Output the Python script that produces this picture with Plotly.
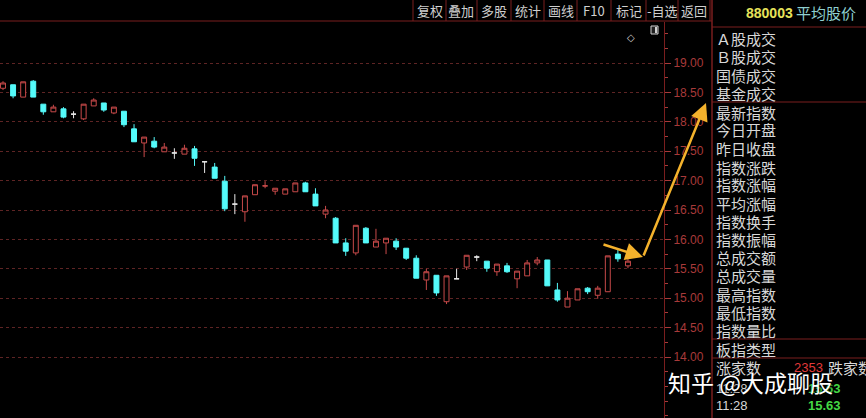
import plotly.graph_objects as go

W, H = 866, 418

# ---------------- data ----------------
opens = [18.57, 18.63, 18.42, 18.69, 18.30, 18.17, 18.22, 18.13, 18.05, 18.27,
         18.32, 18.15, 18.18, 17.88, 17.64, 17.67, 17.49, 17.47, 17.45, 17.54,
         17.32, 17.23, 16.99, 16.60, 16.47, 16.76, 16.91, 16.82, 16.77, 16.81,
         16.96, 16.77, 16.43, 16.36, 15.94, 15.77, 16.19, 15.87, 15.94, 15.97,
         15.85, 15.68, 15.31, 15.39, 14.94, 15.33, 15.53, 15.70, 15.63, 15.45,
         15.55, 15.33, 15.38, 15.60, 15.65, 15.14, 14.85, 14.97, 15.17, 15.05,
         15.11, 15.75, 15.55]
highs = [18.69, 18.63, 18.68, 18.71, 18.30, 18.29, 18.25, 18.18, 18.30, 18.40,
         18.32, 18.25, 18.18, 17.96, 17.74, 17.74, 17.64, 17.55, 17.61, 17.59,
         17.32, 17.30, 17.08, 16.77, 16.74, 16.93, 16.99, 16.87, 16.86, 16.96,
         16.98, 16.87, 16.57, 16.38, 16.02, 16.24, 16.21, 16.18, 16.02, 16.02,
         15.85, 15.73, 15.50, 15.39, 15.38, 15.50, 15.73, 15.73, 15.63, 15.58,
         15.60, 15.46, 15.65, 15.70, 15.65, 15.26, 15.12, 15.16, 15.19, 15.21,
         15.72, 15.82, 15.70]
lows = [18.54, 18.40, 18.42, 18.42, 18.12, 18.17, 18.06, 18.06, 18.03, 18.27,
        18.17, 18.13, 17.91, 17.66, 17.40, 17.55, 17.49, 17.37, 17.45, 17.25,
        17.13, 17.04, 16.48, 16.43, 16.30, 16.76, 16.87, 16.76, 16.77, 16.81,
        16.81, 16.57, 16.36, 15.94, 15.72, 15.73, 15.94, 15.87, 15.75, 15.82,
        15.65, 15.34, 15.14, 15.04, 14.90, 15.33, 15.48, 15.63, 15.45, 15.38,
        15.43, 15.17, 15.38, 15.56, 15.21, 14.94, 14.85, 14.97, 15.07, 14.99,
        15.11, 15.62, 15.51]
closes = [18.66, 18.44, 18.68, 18.42, 18.17, 18.25, 18.08, 18.13, 18.30, 18.37,
          18.20, 18.25, 17.95, 17.66, 17.74, 17.57, 17.57, 17.47, 17.55, 17.38,
          17.32, 17.04, 16.52, 16.60, 16.74, 16.93, 16.91, 16.87, 16.86, 16.96,
          16.81, 16.57, 16.50, 15.94, 15.80, 16.24, 15.94, 15.97, 16.02, 15.87,
          15.68, 15.34, 15.45, 15.09, 15.38, 15.33, 15.73, 15.70, 15.51, 15.58,
          15.45, 15.46, 15.60, 15.65, 15.21, 14.97, 15.00, 15.16, 15.11, 15.17,
          15.72, 15.67, 15.63]
doji_white = [7, 17, 20, 23, 45, 47]
doji_red = [26]

y_ticks = [14.0, 14.5, 15.0, 15.5, 16.0, 16.5, 17.0, 17.5, 18.0, 18.5, 19.0]

toolbar_labels = ["复权", "叠加", "多股", "统计", "画线", "F10", "标记", "-自选", "返回"]
panel_items = ["Ａ股成交", "Ｂ股成交", "国债成交", "基金成交",
               "最新指数", "今日开盘", "昨日收盘", "指数涨跌", "指数涨幅", "平均涨幅",
               "指数换手", "指数振幅", "总成交额", "总成交量", "最高指数", "最低指数",
               "指数量比", "板指类型", "涨家数"]
code_text = "880003"
name_text = "平均股价"
up_count = "2353"
down_label = "跌家数"
time_text = "11:28"
last_price = "15.63"
watermark = "知乎 @大成聊股"

# ---------------- styles ----------------
RED = "#c84a4a"
CYAN = "#54fafa"
AXRED = "#a83a3a"
LINERED = "#7a1e1e"
GRID = "#5e2424"
CJK = "Noto Sans CJK SC"


def px(x):
    return x / W


def py(y):
    return 1 - y / H


n = len(opens)
xs = list(range(n))
up = [i for i in xs if closes[i] > opens[i] and i not in doji_white + doji_red]
down = [i for i in xs if closes[i] < opens[i] and i not in doji_white + doji_red]

fig = go.Figure()


def add_candles(idx, inc_line, inc_fill, dec_line, dec_fill):
    fig.add_trace(go.Candlestick(
        x=[xs[i] for i in idx],
        open=[opens[i] for i in idx],
        high=[highs[i] for i in idx],
        low=[lows[i] for i in idx],
        close=[closes[i] for i in idx],
        increasing=dict(line=dict(color=inc_line, width=1), fillcolor=inc_fill),
        decreasing=dict(line=dict(color=dec_line, width=1), fillcolor=dec_fill),
        whiskerwidth=0, hoverinfo="skip", showlegend=False,
    ))


add_candles(up, RED, "#000000", RED, "#000000")
add_candles(down, CYAN, CYAN, CYAN, CYAN)
add_candles(doji_white, "#e8e8e8", "#e8e8e8", "#e8e8e8", "#e8e8e8")
add_candles(doji_red, RED, RED, RED, RED)

# pixel mapping of the price axis: 19.00 at y=63, 58.8 px per 1.0
top_px, bot_px = 22, 418
y_top = 19 + (63 - top_px) / 58.8
y_bot = 19 - (bot_px - 63) / 58.8
x_left = (0 - 3) / 10.08
x_right = (664 - 3) / 10.08

fig.update_layout(
    width=W, height=H,
    margin=dict(l=0, r=0, t=0, b=0),
    paper_bgcolor="#000000", plot_bgcolor="#000000",
    boxgap=0.3,
    xaxis=dict(domain=[0, px(664)], range=[x_left, x_right],
               showgrid=False, zeroline=False, showticklabels=False,
               showline=False, ticks="", rangeslider=dict(visible=False)),
    yaxis=dict(domain=[0, py(top_px)], range=[y_bot, y_top], side="right",
               tickvals=y_ticks, ticktext=[f"{v:.2f}" for v in y_ticks],
               tickfont=dict(family="Liberation Sans", size=12, color=AXRED),
               ticks="outside", ticklen=6, tickcolor=AXRED,
               minor=dict(dtick=0.25, tick0=14.0, ticks="outside", ticklen=3,
                          tickcolor=AXRED, showgrid=False),
               showline=True, linecolor=LINERED, linewidth=1,
               showgrid=True, gridcolor=GRID, griddash="dot", gridwidth=1,
               zeroline=False),
)

shapes = []
# toolbar
seps = [413, 446, 477, 511, 544, 577, 611, 646, 678, 710]
for s in seps:
    shapes.append(dict(type="line", xref="paper", yref="paper",
                       x0=px(s), x1=px(s), y0=py(0), y1=py(21),
                       line=dict(color=LINERED, width=1)))
shapes.append(dict(type="line", xref="paper", yref="paper",
                   x0=0, x1=px(712), y0=py(21), y1=py(21),
                   line=dict(color=LINERED, width=1)))
# panel borders
shapes.append(dict(type="line", xref="paper", yref="paper",
                   x0=px(712), x1=px(712), y0=0, y1=1,
                   line=dict(color=LINERED, width=1.5)))
for yy in [27, 102, 339, 358]:
    shapes.append(dict(type="line", xref="paper", yref="paper",
                       x0=px(712), x1=1, y0=py(yy), y1=py(yy),
                       line=dict(color=LINERED, width=1)))
# small icon
shapes.append(dict(type="rect", xref="paper", yref="paper",
                   x0=px(651), x1=px(658), y0=py(26), y1=py(34),
                   line=dict(color="#d0d0d0", width=1), fillcolor="#202020"))
shapes.append(dict(type="rect", xref="paper", yref="paper",
                   x0=px(655), x1=px(657), y0=py(27), y1=py(33),
                   line=dict(width=0), fillcolor="#d0d0d0"))
fig.update_layout(shapes=shapes)

ann = []
for i, lab in enumerate(toolbar_labels):
    ann.append(dict(x=px((seps[i] + seps[i + 1]) / 2), y=py(11), xref="paper", yref="paper",
                    text=lab, showarrow=False, xanchor="center", yanchor="middle",
                    font=dict(family=CJK, size=13, color="#cfcfcf")))
ann.append(dict(x=px(637), y=py(30), xref="paper", yref="paper", text="◇",
                showarrow=False, font=dict(family="DejaVu Sans", size=10, color="#cfcfcf")))

ann.append(dict(x=px(744), y=py(13), xref="paper", yref="paper", text=code_text,
                showarrow=False, xanchor="left", yanchor="middle",
                font=dict(family="Liberation Sans", size=14, color="#e6e25a", weight="bold")))
ann.append(dict(x=px(794), y=py(13), xref="paper", yref="paper", text=name_text,
                showarrow=False, xanchor="left", yanchor="middle",
                font=dict(family=CJK, size=15, color="#8fd0d0")))

item_y = [39, 57, 75, 93, 112, 130, 149, 167, 185, 203, 221, 239, 257, 275,
          294, 312, 330, 349, 367]
for lab, yy in zip(panel_items, item_y):
    ann.append(dict(x=px(714), y=py(yy), xref="paper", yref="paper", text=lab,
                    showarrow=False, xanchor="left", yanchor="middle",
                    font=dict(family=CJK, size=15, color="#d8d8d8")))
ann.append(dict(x=px(792), y=py(367), xref="paper", yref="paper", text=up_count,
                showarrow=False, xanchor="left", yanchor="middle",
                font=dict(family="Liberation Sans", size=13, color="#e03a3a")))
ann.append(dict(x=px(826), y=py(367), xref="paper", yref="paper", text=down_label,
                showarrow=False, xanchor="left", yanchor="middle",
                font=dict(family=CJK, size=15, color="#d8d8d8")))
for yy in [388, 405]:
    ann.append(dict(x=px(714), y=py(yy), xref="paper", yref="paper", text=time_text,
                    showarrow=False, xanchor="left", yanchor="middle",
                    font=dict(family="Liberation Sans", size=13, color="#d8d8d8")))
    ann.append(dict(x=px(806), y=py(yy), xref="paper", yref="paper", text=last_price,
                    showarrow=False, xanchor="left", yanchor="middle",
                    font=dict(family="Liberation Sans", size=13, color="#44d844", weight="bold")))

# watermark
ann.append(dict(x=px(666), y=py(382), xref="paper", yref="paper", text=watermark,
                showarrow=False, xanchor="left", yanchor="middle",
                font=dict(family=CJK, size=23, color="#ffffff",
                          shadow="1px 1px 3px #000000")))

# arrows
ARROW = "#f4b22c"
ann.append(dict(x=px(643), y=py(257), xref="paper", yref="paper", text="",
                showarrow=True, axref="pixel", ayref="pixel", ax=-41, ay=-13,
                arrowhead=2, arrowsize=1.4, arrowwidth=2.5, arrowcolor=ARROW))
ann.append(dict(x=px(706), y=py(103), xref="paper", yref="paper", text="",
                showarrow=True, axref="pixel", ayref="pixel", ax=-63, ay=154,
                arrowhead=2, arrowsize=1.4, arrowwidth=2.5, arrowcolor=ARROW))

fig.update_layout(annotations=ann)

fig.write_html("out.html", config={"displayModeBar": False},
               post_script="document.body.style.margin='0';document.body.style.overflow='hidden';")
